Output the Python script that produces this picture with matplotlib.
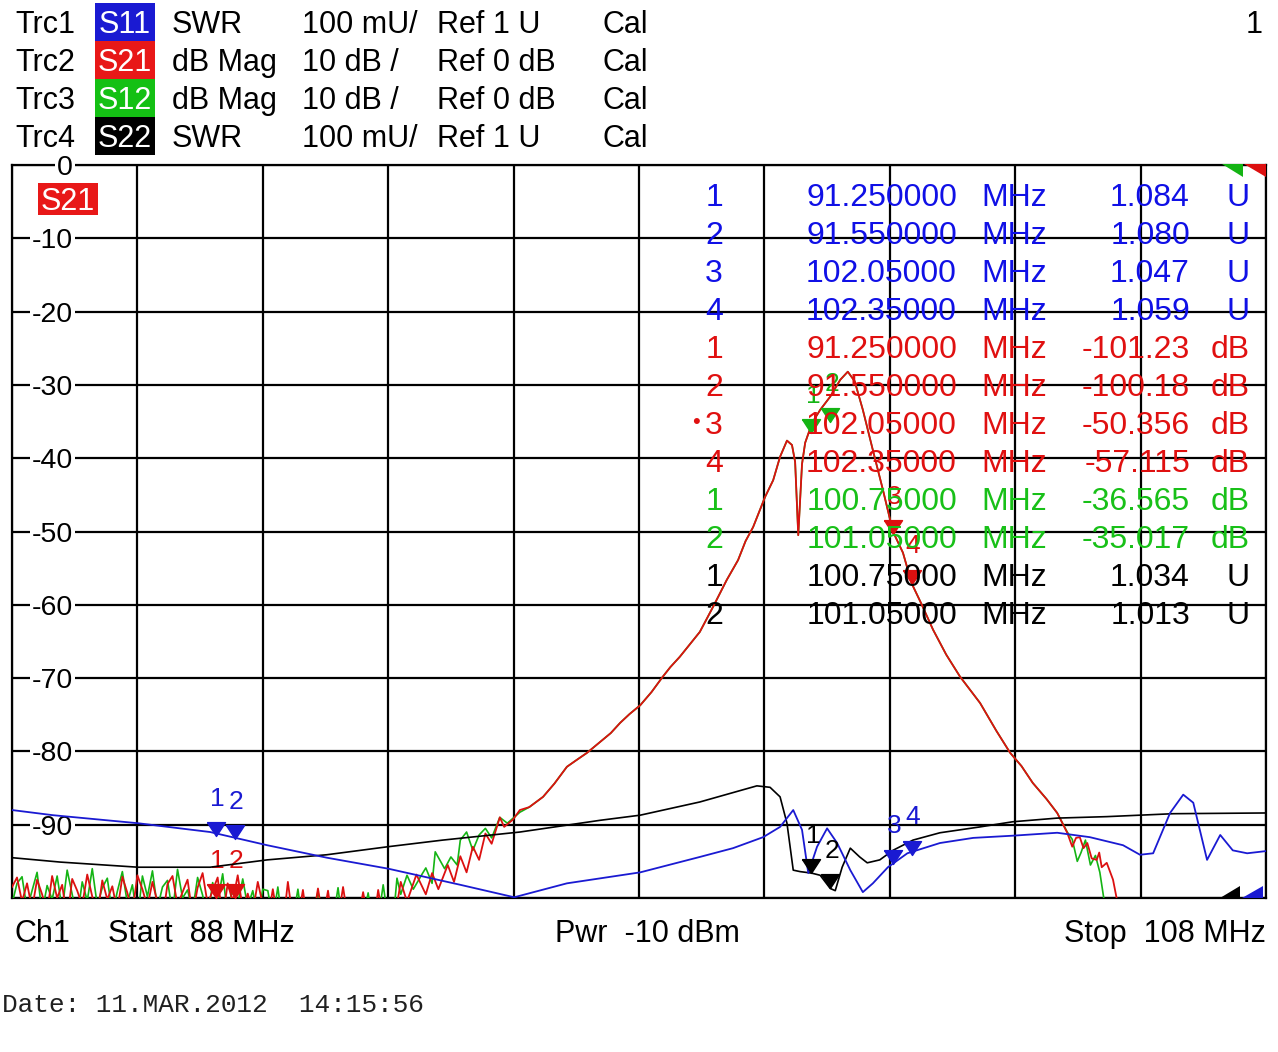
import numpy as np
import matplotlib
matplotlib.use('Agg')
import matplotlib.pyplot as plt
from matplotlib.patches import Rectangle, Polygon

#screen size in pixels
W, H = 1278, 1052

#colours of the four traces
blue = '#1a1ad2'
red = '#dc1010'
green = '#14b414'
black = '#000000'

#S21 / S12 noise floor 88-92 MHz (dB), evenly spaced sweep points
s21_noise = [-98.5, -97.2, -100.5, -98.0, -101.5, -97.5, -99.5, -102, -97.0, -100,
             -98.2, -103, -97.4, -99.0, -101, -96.8, -99.8, -102.5, -97.6, -100.2,
             -98.4, -101.8, -97.1, -99.3, -102, -96.9, -98.8, -101.2, -97.8, -100.6,
             -103, -98.1, -97.0, -101, -99.2, -97.5, -102.4, -98.6, -96.6, -100.8,
             -99.0, -97.2, -103, -98.0, -100.5, -96.9, -101.5, -99.4, -102, -97.8, -100.9]
s12_noise = [-100.8, -98.0, -97.1, -101.5, -99.0, -96.5, -102, -98.3, -100.2, -97.0,
             -101.6, -96.2, -99.5, -102.8, -97.8, -100.4, -96.0, -101, -98.6, -97.3,
             -102.2, -99.1, -96.4, -100.7, -98.2, -103, -97.0, -99.8, -96.3, -101.4,
             -98.5, -97.6, -102, -96.1, -100.0, -98.9, -101.8, -97.2, -99.6, -103,
             -97.9, -100.5, -96.7, -102.4, -98.4, -100.9, -97.4, -101.2, -99.0, -102.6, -98.8]

#sparse spikes 92-94 MHz
s21_sparse = [-103, -98.8, -103, -104, -97.8, -103, -103, -98.9, -104, -103, -98.7, -103, -99.0,
              -104, -103, -98.5, -103, -104, -103, -99.2, -103, -104, -98.9, -103, -104]
s12_sparse = [-99.0, -103, -98.5, -104, -103, -103, -98.8, -104, -103, -103, -99.1, -104, -103,
              -103, -98.6, -104, -103, -103, -104, -103, -99.3, -104, -103, -98.2, -103]

#noisy lower skirt
s21_rise_f = [94.1, 94.2, 94.3, 94.45, 94.6, 94.7, 94.8, 94.95, 95.05, 95.15, 95.25, 95.35,
              95.45, 95.55, 95.65, 95.78, 95.85, 95.99, 96.1]
s21_rise = [-103, -97.8, -100.5, -96.8, -99.5, -96.6, -98.8, -95.5, -97.8, -94.3, -96.5, -93.0,
            -94.8, -91.2, -92.6, -89.0, -90.3, -89.3, -88.0]
s12_rise_f = [94.08, 94.14, 94.2, 94.3, 94.4, 94.55, 94.6, 94.7, 94.75, 94.9, 95.0, 95.1, 95.15,
              95.25, 95.35, 95.45, 95.55, 95.65, 95.78, 95.9, 96.1]
s12_rise = [-103, -97.3, -99.5, -96.9, -98.8, -96.6, -95.9, -98.0, -93.7, -96.0, -94.4, -95.5,
            -92.1, -91.0, -93.5, -91.4, -90.5, -91.8, -89.0, -89.8, -88.3]

#filter response, S21 and S12 lie on top of each other here
pass_f = [96.25, 96.47, 96.65, 96.85, 97.0, 97.17, 97.38, 97.55, 97.70, 97.85, 98.02, 98.2,
          98.38, 98.5, 98.65, 98.8, 98.97, 99.18, 99.40, 99.58, 99.70, 99.82, 100.01, 100.14,
          100.25, 100.36, 100.44, 100.49, 100.54, 100.60, 100.65, 100.76, 100.89, 101.05,
          101.21, 101.33, 101.44, 101.57, 101.73, 101.89, 102.05, 102.21, 102.35, 102.5,
          102.69, 102.9, 103.12, 103.44, 103.7, 103.92, 104.1, 104.28, 104.5, 104.67]
pass_db = [-87.6, -86.2, -84.4, -82.1, -81.2, -80.2, -78.7, -77.5, -76.1, -74.9, -73.7, -71.9,
           -69.8, -68.5, -67.1, -65.5, -63.7, -60.3, -56.6, -53.9, -51.3, -49.4, -45.3, -43.0,
           -39.8, -37.6, -38.2, -40.5, -50.5, -40.8, -37.9, -35.2, -33.4, -31.6,
           -29.3, -28.2, -29.5, -33.4, -38.9, -44.3, -50.0, -52.9, -57.1, -59.8,
           -63.4, -66.8, -69.8, -73.4, -77.2, -80.2, -82.0, -84.3, -86.5, -88.4]

#upper skirt going back into the noise
s21_tail_f = [104.83, 104.91, 104.97, 105.03, 105.09, 105.15, 105.22, 105.30, 105.34, 105.38,
              105.46, 105.56, 105.64, 105.7]
s21_tail = [-91.1, -93.0, -91.8, -91.7, -93.2, -92.5, -94.6, -94.8, -93.8, -95.8,
            -95.2, -97.5, -101, -104]
s12_tail_f = [104.83, 104.91, 104.99, 105.05, 105.12, 105.2, 105.28, 105.35, 105.43, 105.5]
s12_tail = [-91.0, -92.0, -95.0, -93.8, -92.1, -95.5, -94.2, -96.5, -101, -104]

#S11 and S22 as SWR
s11_f = [88.0, 88.65, 90.01, 91.16, 92.07, 93.02, 94.0, 95.15, 96.01, 96.85, 98.02, 98.97,
         99.5, 99.98, 100.25, 100.46, 100.6, 100.7, 100.84, 101.0, 101.16, 101.37, 101.57,
         101.73, 101.97, 102.28, 102.8, 103.33, 103.96, 104.67, 105.19, 105.72, 105.99,
         106.2, 106.47, 106.68, 106.84, 107.06, 107.27, 107.47, 107.7, 108.0]
s11_swr = [1.120, 1.113, 1.102, 1.090, 1.072, 1.055, 1.040, 1.018, 1.001, 1.020, 1.035, 1.056,
           1.068, 1.083, 1.097, 1.120, 1.093, 1.034, 1.070, 1.095, 1.075, 1.038, 1.008,
           1.020, 1.042, 1.061, 1.075, 1.082, 1.085, 1.089, 1.083, 1.072, 1.059,
           1.061, 1.116, 1.141, 1.130, 1.052, 1.086, 1.065, 1.061, 1.064]
s22_f = [88.0, 88.77, 90.01, 91.16, 92.07, 93.02, 94.0, 94.87, 96.1, 97.38, 98.02, 98.97,
         99.88, 100.09, 100.25, 100.36, 100.46, 100.57, 100.75, 100.89, 101.05, 101.13, 101.24,
         101.37, 101.52, 101.64, 101.84, 102.05, 102.37, 102.8, 103.44, 103.96, 104.67,
         105.46, 106.52, 108.0]
s22_swr = [1.055, 1.049, 1.042, 1.042, 1.052, 1.059, 1.070, 1.079, 1.090, 1.106, 1.113, 1.131,
           1.153, 1.151, 1.138, 1.102, 1.038, 1.036, 1.034, 1.031, 1.013, 1.010, 1.042,
           1.068, 1.056, 1.048, 1.052, 1.065, 1.079, 1.089, 1.097, 1.104, 1.109,
           1.111, 1.115, 1.116]

#marker readouts
s11_mk_f = [91.25, 91.55, 102.05, 102.35]
s11_mk = [1.084, 1.080, 1.047, 1.059]
s21_mk_f = [91.25, 91.55, 102.05, 102.35]
s21_mk = [-101.23, -100.18, -50.356, -57.115]
s12_mk_f = [100.75, 101.05]
s12_mk = [-36.565, -35.017]
s22_mk_f = [100.75, 101.05]
s22_mk = [1.034, 1.013]

#pixel -> figure fraction
def px(x):
    return x / W
def py(y):
    return 1 - y / H

plt.rcParams['font.family'] = ['Liberation Sans', 'DejaVu Sans']
fig = plt.figure(figsize=(W / 100, H / 100), dpi=100)
fig.patch.set_facecolor('white')

#header with the trace list
hdr = [('Trc1', 'S11', blue, 'SWR', '100 mU/', 'Ref 1 U'),
       ('Trc2', 'S21', '#e81818', 'dB Mag', '10 dB /', 'Ref 0 dB'),
       ('Trc3', 'S12', '#14c014', 'dB Mag', '10 dB /', 'Ref 0 dB'),
       ('Trc4', 'S22', black, 'SWR', '100 mU/', 'Ref 1 U')]
fs = 22
for i, (trc, sp, col, fmt, scl, ref) in enumerate(hdr):
    base = 33 + 38 * i
    fig.add_artist(Rectangle((px(95), py(41 + 38 * i)), px(60), 38 / H,
                             transform=fig.transFigure, color=col, lw=0))
    fig.text(px(15), py(base), trc, fontsize=fs, va='baseline')
    fig.text(px(125), py(base), sp, fontsize=fs, va='baseline', ha='center', color='white')
    fig.text(px(172), py(base), fmt, fontsize=fs, va='baseline')
    fig.text(px(302), py(base), scl, fontsize=fs, va='baseline')
    fig.text(px(437), py(base), ref, fontsize=fs, va='baseline')
    fig.text(px(602), py(base), 'Cal', fontsize=fs, va='baseline')
fig.text(px(1263), py(33), '1', fontsize=fs, va='baseline', ha='right')

#diagram area
ax = fig.add_axes([px(12), py(898), px(1254), 733 / H])
ax.set_xlim(88, 108)
ax.set_ylim(-100, 0)
ax.set_xticks(np.arange(88, 109, 2))
ax.set_yticks(np.arange(-100, 1, 10))
ax.grid(color='black', lw=1.6)
ax.tick_params(length=0, labelbottom=False, labelleft=False)
for s in ax.spines.values():
    s.set_linewidth(1.6)
for v in range(0, -100, -10):
    ax.text(88.97, v, str(v), ha='right', va='center_baseline', fontsize=20.5, zorder=6,
            bbox=dict(facecolor='white', edgecolor='none', pad=1.5))

#S12 then S21 in dB
f_noise = np.linspace(88, 92, len(s21_noise))
f_sparse = np.linspace(92.08, 94.0, len(s21_sparse))
s12_f_all = np.concatenate([f_noise, f_sparse, s12_rise_f, pass_f, s12_tail_f])
s12_all = np.concatenate([s12_noise, s12_sparse, s12_rise, pass_db, s12_tail])
s21_f_all = np.concatenate([f_noise, f_sparse, s21_rise_f, pass_f, s21_tail_f])
s21_all = np.concatenate([s21_noise, s21_sparse, s21_rise, pass_db, s21_tail])
ax.plot(s12_f_all, s12_all, color=green, lw=1.2, zorder=3)
ax.plot(s21_f_all, s21_all, color=red, lw=1.3, zorder=3)

#SWR traces on their own scale, 1 U at the bottom line
ax2 = ax.twinx()
ax2.set_ylim(1.0, 2.0)
ax2.axis('off')
ax2.plot(s22_f, s22_swr, color=black, lw=1.2)
ax2.plot(s11_f, s11_swr, color=blue, lw=1.3)

#marker triangles, tip on the point
tri = [(-0.65, 1.0), (0.65, 1.0), (0.0, 0.0), (-0.65, 1.0)]
def markers(a, fl, vl, col, lo):
    for i, (f, v) in enumerate(zip(fl, vl)):
        v = max(v, lo)
        a.plot([f], [v], marker=tri, ms=20, color=col, lw=0, clip_on=False, zorder=5)
        a.annotate(str(i + 1), (f, v), xytext=(1, 27), textcoords='offset points',
                   ha='center', va='center', fontsize=19, color=col, zorder=5)
markers(ax2, s11_mk_f, s11_mk, blue, 1.0)
markers(ax, s21_mk_f, s21_mk, red, -100)
markers(ax, s12_mk_f, s12_mk, green, -100)
markers(ax2, s22_mk_f, s22_mk, black, 1.0)

#S21 badge in the diagram
fig.add_artist(Rectangle((px(38), py(215)), px(60), 32 / H, transform=fig.transFigure,
                         color='#e81818', lw=0))
fig.text(px(68), py(210), 'S21', fontsize=22, color='white', ha='center', va='baseline')

#out of range arrows in the corners
def corner(pts, col):
    fig.add_artist(Polygon([(px(x), py(y)) for x, y in pts], closed=True,
                           transform=fig.transFigure, color=col, lw=0))
corner([(1222, 164), (1243, 164), (1243, 177)], green)
corner([(1244, 164), (1266, 164), (1266, 177)], red)
corner([(1220, 898), (1240, 886), (1240, 898)], black)
corner([(1242, 898), (1263, 886), (1263, 898)], blue)

#marker table
rows = []
for i, (f, v) in enumerate(zip(s11_mk_f, s11_mk)):
    rows.append((i + 1, f, f'{v:.3f}', 'U', '#1010e6'))
for i, (f, v) in enumerate(zip(s21_mk_f, s21_mk)):
    rows.append((i + 1, f, f'{v:#.5g}', 'dB', '#e01010'))
for i, (f, v) in enumerate(zip(s12_mk_f, s12_mk)):
    rows.append((i + 1, f, f'{v:#.5g}', 'dB', '#18c018'))
for i, (f, v) in enumerate(zip(s22_mk_f, s22_mk)):
    rows.append((i + 1, f, f'{v:.3f}', 'U', black))
tf = 23
for r, (n, f, val, unit, col) in enumerate(rows):
    base = py(206 + 38 * r)
    fig.text(px(714), base, str(n), fontsize=tf, color=col, ha='center', va='baseline', zorder=7)
    fig.text(px(957), base, f'{f:#.8g}', fontsize=tf, color=col, ha='right', va='baseline', zorder=7)
    fig.text(px(981), base, 'MHz', fontsize=tf, color=col, va='baseline', zorder=7)
    fig.text(px(1190), base, val, fontsize=tf, color=col, ha='right', va='baseline', zorder=7)
    fig.text(px(1250), base, unit, fontsize=tf, color=col, ha='right', va='baseline', zorder=7)
#active marker dot
fig.text(px(696), py(423), '\u2022', fontsize=16, color='#e01010', ha='center', va='center')

#channel line
fig.text(px(15), py(942), 'Ch1', fontsize=fs, va='baseline')
fig.text(px(108), py(942), 'Start  88 MHz', fontsize=fs, va='baseline')
fig.text(px(555), py(942), 'Pwr  -10 dBm', fontsize=fs, va='baseline')
fig.text(px(1266), py(942), 'Stop  108 MHz', fontsize=fs, va='baseline', ha='right')

fig.text(px(2), py(1012), 'Date: 11.MAR.2012  14:15:56', family='Liberation Mono',
         fontsize=18.8, va='baseline', color='#202020')

plt.savefig('out.png', dpi=100)
